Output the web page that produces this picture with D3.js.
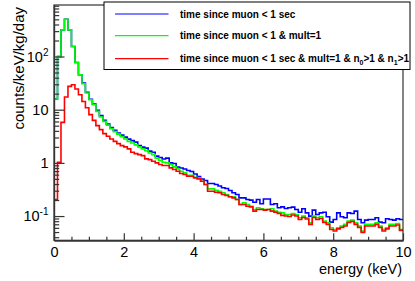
<!DOCTYPE html>
<html>
<head>
<meta charset="utf-8">
<script src="https://cdn.jsdelivr.net/npm/d3@7"></script>
<style>
  body { margin: 0; background: #fff; }
  svg text { font-family: "Liberation Sans", Arial, sans-serif; }
</style>
</head>
<body>
<svg id="chart" width="415" height="281"></svg>
<script>
// bins of 0.1 keV, 0 - 10 keV
const binWidth = 0.1;
const binCount = 100;

// time since muon < 1 sec
const allMuon = [
  15.9, 100, 317, 503, 317, 154, 77.2, 45.4, 31.7, 21.3,
  15.7, 12.7, 9.79, 7.72, 6.35, 5.35, 4.60, 4.09, 3.65, 3.32,
  3.05, 2.80, 2.62, 2.46, 2.11, 1.98, 1.89, 1.66, 1.58, 1.34,
  1.26, 1.18, 1.23, 1.00, 0.970, 0.834, 0.799, 0.765, 0.717, 0.687,
  0.616, 0.553, 0.497, 0.465, 0.409, 0.409, 0.392, 0.367, 0.340, 0.329,
  0.302, 0.274, 0.254, 0.220, 0.220, 0.205, 0.199, 0.182, 0.205, 0.170,
  0.209, 0.209, 0.165, 0.170, 0.143, 0.149, 0.139, 0.143, 0.147, 0.133,
  0.118, 0.137, 0.115, 0.0996, 0.129, 0.107, 0.115, 0.118, 0.0970, 0.0768,
  0.0864, 0.115, 0.0970, 0.0929, 0.115, 0.112, 0.124, 0.0864, 0.0748, 0.0838,
  0.0864, 0.0864, 0.0929, 0.0768, 0.0748, 0.0890, 0.0864, 0.0838, 0.0890, 0.0864
];
// time since muon < 1 & mult=1
const multOne = [
  15.9, 100, 317, 503, 317, 154, 77.2, 45.4, 30.7, 20.6,
  15.4, 12.4, 9.29, 7.29, 6.03, 5.12, 4.40, 3.87, 3.47, 3.11,
  2.82, 2.54, 2.37, 2.18, 2.00, 1.83, 1.70, 1.53, 1.43, 1.23,
  1.10, 1.03, 1.00, 0.929, 0.841, 0.772, 0.696, 0.649, 0.585, 0.585,
  0.537, 0.523, 0.452, 0.392, 0.325, 0.325, 0.306, 0.293, 0.274, 0.254,
  0.230, 0.230, 0.205, 0.165, 0.178, 0.165, 0.153, 0.133, 0.143, 0.137,
  0.133, 0.133, 0.137, 0.124, 0.118, 0.115, 0.107, 0.107, 0.112, 0.107,
  0.0929, 0.0996, 0.0929, 0.0748, 0.0996, 0.0929, 0.0970, 0.0802, 0.0748, 0.0603,
  0.0560, 0.0603, 0.0646, 0.0696, 0.0802, 0.0838, 0.0748, 0.0646, 0.0521, 0.0696,
  0.0696, 0.0696, 0.0748, 0.0646, 0.0560, 0.0603, 0.0696, 0.0696, 0.0726, 0.0560
];
// time since muon < 1 sec & mult=1 & n0>1 & n1>1
const multOneN = [
  0.205, 1.03, 5.78, 17.3, 27.4, 29.4, 24.5, 19.1, 14.3, 10.9,
  8.06, 6.30, 5.01, 4.21, 3.55, 3.16, 2.82, 2.54, 2.30, 2.11,
  2.00, 1.83, 1.58, 1.49, 1.43, 1.37, 1.19, 1.15, 1.07, 1.00,
  0.929, 0.890, 0.890, 0.806, 0.749, 0.696, 0.630, 0.603, 0.560, 0.560,
  0.523, 0.501, 0.452, 0.392, 0.293, 0.293, 0.281, 0.274, 0.254, 0.243,
  0.230, 0.220, 0.205, 0.165, 0.165, 0.153, 0.149, 0.124, 0.133, 0.133,
  0.129, 0.133, 0.124, 0.118, 0.112, 0.103, 0.100, 0.0983, 0.105, 0.100,
  0.0864, 0.0941, 0.0882, 0.0696, 0.0941, 0.0864, 0.0901, 0.0758, 0.0696, 0.0560,
  0.0525, 0.0573, 0.0611, 0.0652, 0.0758, 0.0792, 0.0696, 0.0611, 0.0492, 0.0652,
  0.0652, 0.0652, 0.0696, 0.0611, 0.0525, 0.0573, 0.0652, 0.0652, 0.0681, 0.0537
];

const seriesNames = ["time since muon < 1 sec", "time since muon < 1 & mult=1", "time since muon < 1 sec & mult=1 & n0>1 & n1>1"];
const seriesColors = ["#0000ff", "#00ff00", "#ff0000"];
const xMajorTicks = [0, 2, 4, 6, 8, 10];
const yDecades = [0.1, 1, 10, 100];
const yLabels = [["10", "-1"], ["1", ""], ["10", ""], ["10", "2"]];
const xTitle = "energy (keV)";
const yTitle = "counts/keV/kg/day";

const svg = d3.select("#chart");
const margins = {top: 5, right: 12, bottom: 40.7, left: 54};
const chartWidth = svg.attr("width") - margins.left - margins.right;
const chartHeight = svg.attr("height") - margins.top - margins.bottom;

// scales
const scaleE = d3.scaleLinear().domain([0, 10]).range([0, chartWidth]);
const scaleC = d3.scaleLog().domain([0.035, 930]).range([chartHeight, 0]);

const chartArea = svg.append("g")
  .attr("transform", `translate(${margins.left},${margins.top})`);

chartArea.append("clipPath").attr("id", "plotclip")
  .append("rect").attr("width", chartWidth).attr("height", chartHeight);

// histograms
const stepLine = d3.line()
  .x(d => scaleE(d[0]))
  .y(d => scaleC(d[1]))
  .curve(d3.curveStepAfter);

[allMuon, multOne, multOneN].forEach((vals, k) => {
  const pts = vals.map((v, i) => [i * binWidth, v]);
  pts.push([binCount * binWidth, vals[vals.length - 1]]);
  chartArea.append("path")
    .attr("clip-path", "url(#plotclip)")
    .attr("d", stepLine(pts))
    .attr("fill", "none")
    .attr("stroke", seriesColors[k])
    .attr("stroke-width", 1.6);
});

// frame
chartArea.append("rect")
  .attr("width", chartWidth).attr("height", chartHeight)
  .attr("fill", "none").attr("stroke", "#333").attr("stroke-width", 1.2);

// y ticks (inside)
const yMinor = [];
[0.01, 0.1, 1, 10, 100].forEach(dec => {
  for (let m = 2; m <= 9; m++) {
    const v = m * dec;
    if (v >= 0.035 && v <= 930) yMinor.push(v);
  }
});
chartArea.append("g").attr("class", "axis")
  .call(d3.axisLeft(scaleC).tickValues(yMinor).tickSizeInner(-5.2).tickSizeOuter(0).tickFormat(""));
chartArea.append("g").attr("class", "axis")
  .call(d3.axisLeft(scaleC).tickValues(yDecades).tickSizeInner(-10.5).tickSizeOuter(0).tickFormat(""));

// x ticks (inside) + labels
const xMinor = d3.range(0, 10.01, 0.5).filter(v => v % 2 !== 0);
chartArea.append("g").attr("class", "axis")
  .attr("transform", `translate(0,${chartHeight})`)
  .call(d3.axisBottom(scaleE).tickValues(xMinor).tickSizeInner(-3.5).tickSizeOuter(0).tickFormat(""));
chartArea.append("g").attr("class", "axis xlab")
  .attr("transform", `translate(0,${chartHeight})`)
  .call(d3.axisBottom(scaleE).tickValues(xMajorTicks).tickSizeInner(-7).tickSizeOuter(0).tickPadding(6).tickFormat(d3.format("d")));

svg.selectAll(".axis path").attr("stroke", "#333").attr("stroke-width", 1.2);
svg.selectAll(".axis line").attr("stroke", "#333").attr("stroke-width", 1.2);
svg.selectAll(".xlab text").attr("font-size", 14.5).attr("fill", "#000")
  .style("font-family", "'Liberation Sans', Arial, sans-serif");

// y labels with superscripts
yDecades.forEach((v, i) => {
  const t = chartArea.append("text")
    .attr("x", -5.5).attr("y", scaleC(v) + 5)
    .attr("text-anchor", "end").attr("font-size", 14.5);
  t.append("tspan").text(yLabels[i][0]);
  if (yLabels[i][1]) {
    t.append("tspan").attr("dy", -6).attr("font-size", 10).text(yLabels[i][1]);
  }
});

// axis titles
svg.append("text")
  .attr("transform", `translate(23.5,7) rotate(-90)`)
  .attr("text-anchor", "end").attr("font-size", 15)
  .text(yTitle);
svg.append("text")
  .attr("x", 402).attr("y", 273.5)
  .attr("text-anchor", "end").attr("font-size", 14.5)
  .text(xTitle);

// legend
const legend = svg.append("g");
legend.append("rect")
  .attr("x", 104).attr("y", 2).attr("width", 306).attr("height", 67.5)
  .attr("fill", "#fff").attr("stroke", "#000").attr("stroke-width", 1);
const legendY = [14, 35.7, 58.7];
seriesNames.forEach((name, k) => {
  legend.append("line")
    .attr("x1", 115).attr("x2", 168.5)
    .attr("y1", legendY[k]).attr("y2", legendY[k])
    .attr("stroke", seriesColors[k]).attr("stroke-width", 1.2);
  const t = legend.append("text")
    .attr("x", 180).attr("y", legendY[k] + 3.7)
    .attr("font-size", 10).attr("font-weight", "bold");
  if (k < 2) {
    t.text(name);
  } else {
    t.append("tspan").text("time since muon < 1 sec & mult=1 & n");
    t.append("tspan").attr("dy", 2.5).attr("font-size", 7).text("0");
    t.append("tspan").attr("dy", -2.5).text(">1 & n");
    t.append("tspan").attr("dy", 2.5).attr("font-size", 7).text("1");
    t.append("tspan").attr("dy", -2.5).text(">1");
  }
});
</script>
</body>
</html>
